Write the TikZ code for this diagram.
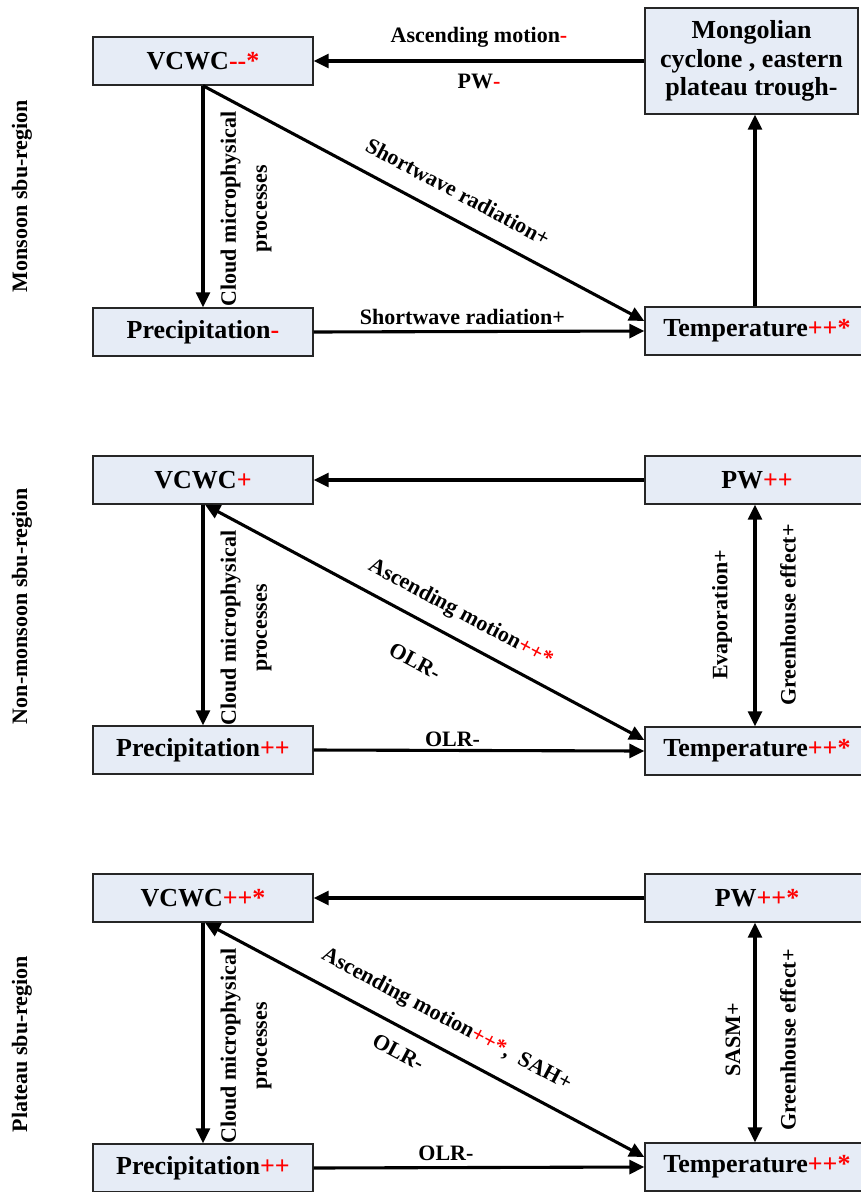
\documentclass[tikz,border=0pt]{standalone}
\usepackage{fontspec}
\setmainfont{Liberation Serif}
\usetikzlibrary{arrows.meta}

\definecolor{boxblue}{HTML}{E6ECF6}
\newcommand{\redmark}[1]{\textcolor{red}{#1}}

\tikzset{
  box/.style={draw=black!85, line width=1.4pt, fill=boxblue, minimum width=220, minimum height=48,
    font=\bfseries\fontsize{26}{28.5}\selectfont, align=center},
  rbox/.style={box, minimum width=224},
  link/.style={line width=3.1pt, -{Triangle[length=15pt,width=14pt]}},
  twolink/.style={line width=3.1pt, {Triangle[length=15pt,width=14pt]}-{Triangle[length=15pt,width=14pt]}},
  lbl/.style={font=\bfseries\fontsize{22}{31}\selectfont, inner sep=2pt, align=center},
  region/.style={font=\bfseries\fontsize{22}{26}\selectfont, rotate=90}
}

\begin{document}
\begin{tikzpicture}[x=1pt,y=-1pt]
    \useasboundingbox (0,0) rectangle (860,1192);

    % Regions
    \node[region] (rmon) at (22,196) {Monsoon sbu-region};
    \node[region] (rnon) at (22,606) {Non-monsoon sbu-region};
    \node[region] (rpla) at (22,1044) {Plateau sbu-region};

    % Monsoon
    \node[box] (vcwc1) at (203,61) {VCWC\redmark{{-}{-}*}};
    \node[box, minimum width=213, minimum height=106] (mong1) at (751.5,61) {Mongolian\\cyclone , eastern\\plateau trough-};
    \node[box] (prec1) at (203,332) {Precipitation\redmark{-}};
    \node[rbox] (temp1) at (757,331) {Temperature\redmark{++*}};
    \draw[link] (mong1.west) -- (vcwc1.east)
      node[lbl, midway, above=10pt] {Ascending motion\redmark{-}}
      node[lbl, midway, below=10pt] {PW\redmark{-}};
    \draw[link] (vcwc1.south) -- (prec1.north);
    \node[lbl, rotate=90] (cmp1) at (246,209) {Cloud microphysical\\processes};
    \draw[link] (vcwc1.south) -- ([yshift=10pt]temp1.west)
      node[lbl, pos=0.55, sloped, above=15pt] {Shortwave radiation+};
    \draw[link] (prec1.east) -- (temp1.west)
      node[lbl, pos=0.45, above=3pt] {Shortwave radiation+};
    \draw[link] ([xshift=-2pt]temp1.north) -- ([xshift=-2pt]temp1.north |- mong1.south);

    % Non-monsoon
    \begin{scope}[shift={(0,419)}]
      \node[box] (vcwc2) at (203,61) {VCWC\redmark{+}};
      \node[rbox] (pw2) at (757,61) {PW\redmark{++}};
      \node[box] (prec2) at (203,331) {Precipitation\redmark{++}};
      \node[rbox] (temp2) at (757,332) {Temperature\redmark{++*}};
      \draw[link] (pw2.west) -- (vcwc2.east);
      \draw[link] (vcwc2.south) -- (prec2.north);
      \node[lbl, rotate=90] (cmp2) at (246,209) {Cloud microphysical\\processes};
      \draw[twolink] ([xshift=2pt]vcwc2.south) -- ([yshift=11pt]temp2.west)
        node[lbl, pos=0.555, sloped, above=11pt] {Ascending motion\redmark{++*}}
        node[lbl, pos=0.52, sloped, below=28pt] {OLR-};
      \draw[link] (prec2.east) -- (temp2.west)
        node[lbl, pos=0.42, above=0pt] {OLR-};
      \draw[twolink] ([xshift=-2pt]pw2.south) -- ([xshift=-2pt]temp2.north);
      \node[lbl, rotate=90] (evap2) at (722,196) {Evaporation+};
      \node[lbl, rotate=90] (gh2) at (788,196) {Greenhouse effect+};
    \end{scope}

    % Plateau
    \begin{scope}[shift={(0,837)}]
      \node[box] (vcwc3) at (203,61) {VCWC\redmark{++*}};
      \node[rbox] (pw3) at (757,61) {PW\redmark{++*}};
      \node[box] (prec3) at (203,331) {Precipitation\redmark{++}};
      \node[rbox] (temp3) at (757,330) {Temperature\redmark{++*}};
      \draw[link] (pw3.west) -- (vcwc3.east);
      \draw[link] (vcwc3.south) -- (prec3.north);
      \node[lbl, rotate=90] (cmp3) at (246,209) {Cloud microphysical\\processes};
      \draw[twolink] ([xshift=2pt]vcwc3.south) -- ([yshift=10pt]temp3.west)
        node[lbl, pos=0.52, sloped, above=14pt] {Ascending motion\redmark{++*},\ \ SAH+}
        node[lbl, pos=0.465, sloped, below=12pt] {OLR-};
      \draw[link] (prec3.east) -- (temp3.west)
        node[lbl, pos=0.40, above=3pt] {OLR-};
      \draw[twolink] ([xshift=-2pt]pw3.south) -- ([xshift=-2pt]temp3.north);
      \node[lbl, rotate=90] (sasm3) at (733,203) {SASM+};
      \node[lbl, rotate=90] (gh3) at (788,203) {Greenhouse effect+};
    \end{scope}
  \end{tikzpicture}
\end{document}
